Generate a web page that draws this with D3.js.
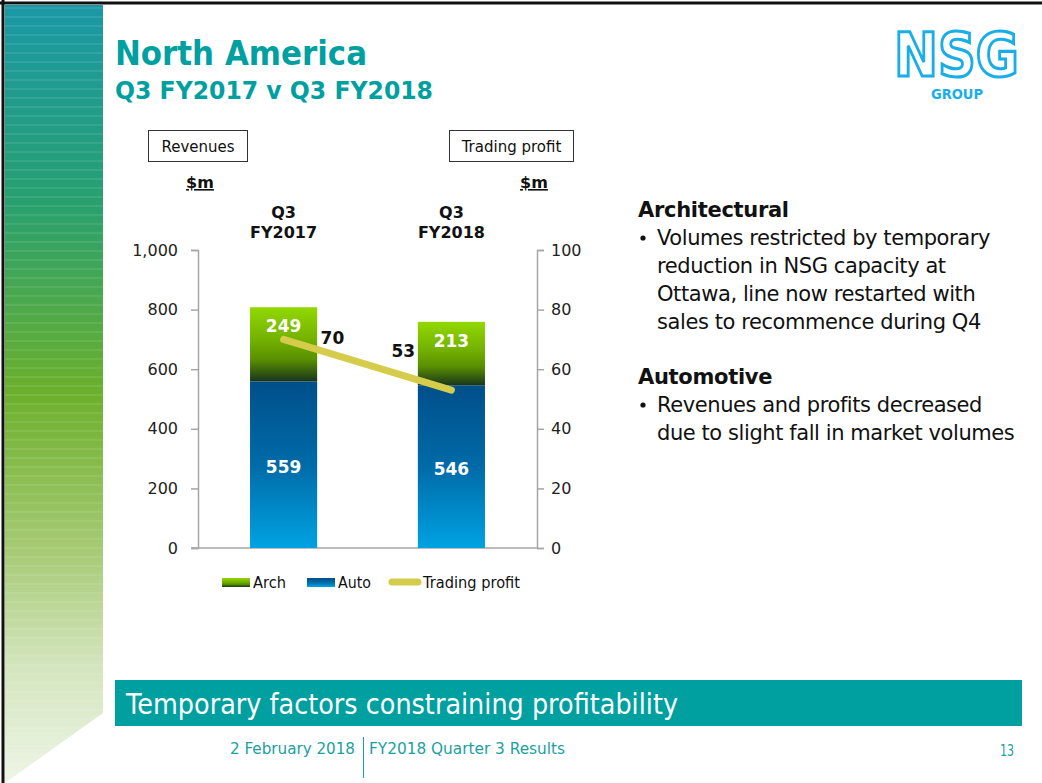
<!DOCTYPE html>
<html>
<head>
<meta charset="utf-8">
<script src="https://cdn.jsdelivr.net/npm/d3@7"></script>
<style>
  html, body { margin: 0; padding: 0; background: #fff; }
  svg { display: block; }
  text { font-family: "DejaVu Sans", Verdana, sans-serif; }
</style>
</head>
<body>
<svg width="1042" height="783"></svg>
<script>
const categories = ['Q3 FY2017', 'Q3 FY2018'];
const autoValues = [559, 546];
const archValues = [249, 213];
const profitValues = [70, 53];
const leftTicks = [0, 200, 400, 600, 800, 1000];
const rightTicks = [0, 20, 40, 60, 80, 100];
const legendItems = ['Arch', 'Auto', 'Trading profit'];

const teal = '#00a0a0';
const svg = d3.select('svg');
svg.selectAll('*').remove();

const defs = svg.append('defs');

// side strip gradient
const sideGrad = defs.append('linearGradient')
    .attr('id', 'side').attr('x1', 0).attr('y1', 0).attr('x2', 0).attr('y2', 1);
[[0, '#1a98a6'], [0.25, '#27a070'], [0.5, '#6cb02c'], [0.7, '#a6ca74'], [0.85, '#d3e5bd'], [1, '#eef5e6']]
    .forEach(([o, c]) => sideGrad.append('stop').attr('offset', o).attr('stop-color', c));

const archGrad = defs.append('linearGradient')
    .attr('id', 'arch').attr('x1', 0).attr('y1', 0).attr('x2', 0).attr('y2', 1);
[[0, '#92d800'], [0.45, '#72b000'], [0.7, '#5a9000'], [1, '#1a351c']]
    .forEach(([o, c]) => archGrad.append('stop').attr('offset', o).attr('stop-color', c));

const autoGrad = defs.append('linearGradient')
    .attr('id', 'auto').attr('x1', 0).attr('y1', 0).attr('x2', 0).attr('y2', 1);
[[0, '#004f8a'], [0.5, '#006ba8'], [1, '#00a2e2']]
    .forEach(([o, c]) => autoGrad.append('stop').attr('offset', o).attr('stop-color', c));

// slide frame
svg.append('polygon')
    .attr('points', '5,5 103,5 103,713 5,783')
    .attr('fill', 'url(#side)');
const bands = svg.append('g').attr('stroke', '#fff').attr('stroke-opacity', 0.18).attr('stroke-width', 1);
d3.range(8, 783, 9).forEach(yy => {
    bands.append('line').attr('x1', 5).attr('x2', 103).attr('y1', yy).attr('y2', yy);
});
svg.append('line').attr('x1', 0).attr('x2', 1042).attr('y1', 3).attr('y2', 3)
    .attr('stroke', '#111').attr('stroke-width', 3);
svg.append('line').attr('x1', 3).attr('x2', 3).attr('y1', 0).attr('y2', 783)
    .attr('stroke', '#111').attr('stroke-width', 3);

// titles
svg.append('text').attr('x', 115).attr('y', 65)
    .attr('fill', teal).attr('font-weight', 'bold').attr('font-size', 33)
    .attr('textLength', 252).attr('lengthAdjust', 'spacingAndGlyphs')
    .text('North America');
svg.append('text').attr('x', 115).attr('y', 99)
    .attr('fill', teal).attr('font-weight', 'bold').attr('font-size', 24)
    .attr('textLength', 318).attr('lengthAdjust', 'spacingAndGlyphs')
    .text('Q3 FY2017 v Q3 FY2018');

// logo
svg.append('text').attr('x', 894).attr('y', 76)
    .attr('font-family', '"Liberation Sans", Arial, sans-serif')
    .attr('font-weight', 'bold').attr('font-size', 60)
    .attr('fill', '#fff').attr('stroke', '#19aee8').attr('stroke-width', 3.2)
    .attr('textLength', 125).attr('lengthAdjust', 'spacingAndGlyphs')
    .text('NSG');
svg.append('text').attr('x', 931).attr('y', 99)
    .attr('font-family', '"Liberation Sans", Arial, sans-serif')
    .attr('font-weight', 'bold').attr('font-size', 13.5)
    .attr('fill', '#19aee8')
    .attr('textLength', 52).attr('lengthAdjust', 'spacingAndGlyphs')
    .text('GROUP');

// chart
const x = d3.scaleBand().domain(categories).range([198, 537])
    .paddingInner(0.6).paddingOuter(0.31);
const yL = d3.scaleLinear().domain([0, 1000]).range([548, 250]);
const yR = d3.scaleLinear().domain([0, 100]).range([548, 250]);

const axisColor = '#a6a6a6';
const gL = svg.append('g').attr('transform', 'translate(198,0)')
    .call(d3.axisLeft(yL).tickValues(leftTicks).tickSize(7).tickPadding(13)
        .tickFormat(d3.format(',')));
const gR = svg.append('g').attr('transform', 'translate(537,0)')
    .call(d3.axisRight(yR).tickValues(rightTicks).tickSize(7).tickPadding(7));
[gL, gR].forEach(g => {
    g.select('.domain').attr('stroke', axisColor).attr('stroke-width', 1.5);
    g.selectAll('.tick line').attr('stroke', axisColor).attr('stroke-width', 1.5);
    g.selectAll('.tick text').attr('fill', '#222').attr('font-size', 16)
        .attr('font-family', '"DejaVu Sans", Verdana, sans-serif');
});
svg.append('line').attr('x1', 191).attr('x2', 537)
    .attr('y1', yL(0)).attr('y2', yL(0))
    .attr('stroke', axisColor).attr('stroke-width', 1.5);

const bars = svg.append('g');
categories.forEach((c, i) => {
    bars.append('rect')
        .attr('x', x(c)).attr('width', x.bandwidth())
        .attr('y', yL(autoValues[i])).attr('height', yL(0) - yL(autoValues[i]))
        .attr('fill', 'url(#auto)');
    bars.append('rect')
        .attr('x', x(c)).attr('width', x.bandwidth())
        .attr('y', yL(autoValues[i] + archValues[i]))
        .attr('height', yL(autoValues[i]) - yL(autoValues[i] + archValues[i]))
        .attr('fill', 'url(#arch)');
    const cx = x(c) + x.bandwidth() / 2;
    bars.append('text').attr('x', cx).attr('y', yL(autoValues[i] + archValues[i]) + 25)
        .attr('text-anchor', 'middle').attr('fill', '#fff')
        .attr('font-weight', 'bold').attr('font-size', 17)
        .text(archValues[i]);
    bars.append('text').attr('x', cx).attr('y', yL(autoValues[i] / 2) + 8)
        .attr('text-anchor', 'middle').attr('fill', '#fff')
        .attr('font-weight', 'bold').attr('font-size', 17)
        .text(autoValues[i]);
    const parts = c.split(' ');
    parts.forEach((p, j) => {
        svg.append('text').attr('x', cx).attr('y', 218 + j * 20)
            .attr('text-anchor', 'middle').attr('fill', '#111')
            .attr('font-weight', 'bold').attr('font-size', 16)
            .text(p);
    });
});

// trading profit line
const line = d3.line()
    .x((d, i) => x(categories[i]) + x.bandwidth() / 2)
    .y(d => yR(d));
svg.append('path').datum(profitValues)
    .attr('d', line)
    .attr('fill', 'none').attr('stroke', '#d4cc4a')
    .attr('stroke-width', 7).attr('stroke-linecap', 'round');
svg.append('text').attr('x', x(categories[0]) + x.bandwidth() / 2 + 37)
    .attr('y', yR(profitValues[0]) + 5)
    .attr('font-weight', 'bold').attr('font-size', 17).attr('fill', '#111')
    .text(profitValues[0]);
svg.append('text').attr('x', x(categories[1]) + x.bandwidth() / 2 - 60)
    .attr('y', yR(profitValues[1]) - 33)
    .attr('font-weight', 'bold').attr('font-size', 17).attr('fill', '#111')
    .text(profitValues[1]);

// legend
const legend = svg.append('g').attr('font-size', 15).attr('fill', '#111');
const legX = [222, 307, 392];
legendItems.forEach((name, i) => {
    if (i < 2) {
        legend.append('rect').attr('x', legX[i]).attr('y', 578)
            .attr('width', 28).attr('height', 9)
            .attr('fill', i === 0 ? 'url(#arch)' : 'url(#auto)');
    } else {
        legend.append('line').attr('x1', legX[i]).attr('x2', legX[i] + 26)
            .attr('y1', 582).attr('y2', 582)
            .attr('stroke', '#d4cc4a').attr('stroke-width', 7).attr('stroke-linecap', 'round');
    }
    legend.append('text').attr('x', legX[i] + 31).attr('y', 588)
        .attr('textLength', [33, 33, 97][i]).attr('lengthAdjust', 'spacingAndGlyphs')
        .text(name);
});

// header boxes
[[148, 'Revenues', 99], [449, 'Trading profit', 124]].forEach(([bx, label, bw]) => {
    svg.append('rect').attr('x', bx + 0.5).attr('y', 130.5).attr('width', bw).attr('height', 31)
        .attr('fill', '#fff').attr('stroke', '#333').attr('stroke-width', 1);
    svg.append('text').attr('x', bx + bw / 2 + 0.5).attr('y', 152)
        .attr('text-anchor', 'middle').attr('font-size', 15).attr('fill', '#111')
        .text(label);
});
[200, 534].forEach(ux => {
    svg.append('text').attr('x', ux).attr('y', 188)
        .attr('text-anchor', 'middle').attr('font-size', 16).attr('font-weight', 'bold')
        .attr('fill', '#111').attr('text-decoration', 'underline')
        .text('$m');
});

// commentary
const notes = svg.append('g').attr('fill', '#111');
notes.append('text').attr('x', 638).attr('y', 217)
    .attr('font-weight', 'bold').attr('font-size', 21).attr('letter-spacing', -0.3)
    .text('Architectural');
['Volumes restricted by temporary', 'reduction in NSG capacity at',
 'Ottawa, line now restarted with', 'sales to recommence during Q4']
    .forEach((t, i) => notes.append('text').attr('x', 657).attr('y', 245 + i * 28)
        .attr('font-size', 21).attr('letter-spacing', -0.42).text(t));
notes.append('circle').attr('cx', 643).attr('cy', 238).attr('r', 2.6);
notes.append('text').attr('x', 638).attr('y', 384)
    .attr('font-weight', 'bold').attr('font-size', 21).attr('letter-spacing', -0.3)
    .text('Automotive');
['Revenues and profits decreased', 'due to slight fall in market volumes']
    .forEach((t, i) => notes.append('text').attr('x', 657).attr('y', 412 + i * 28)
        .attr('font-size', 21).attr('letter-spacing', -0.42).text(t));
notes.append('circle').attr('cx', 643).attr('cy', 405).attr('r', 2.6);

// footer
svg.append('rect').attr('x', 115).attr('y', 680).attr('width', 907).attr('height', 46)
    .attr('fill', teal);
svg.append('text').attr('x', 126).attr('y', 714)
    .attr('fill', '#fff').attr('font-size', 29)
    .attr('font-family', '"Liberation Sans Narrow", "Open Sans", sans-serif')
    .attr('textLength', 552).attr('lengthAdjust', 'spacingAndGlyphs')
    .text('Temporary factors constraining profitability');
const foot = svg.append('g').attr('fill', '#1aa0a0').attr('font-size', 16)
    .attr('font-family', '"Liberation Sans Narrow", "Open Sans", sans-serif');
foot.append('text').attr('x', 230).attr('y', 754)
    .attr('textLength', 125).attr('lengthAdjust', 'spacingAndGlyphs').text('2 February 2018');
foot.append('text').attr('x', 369).attr('y', 754)
    .attr('textLength', 196).attr('lengthAdjust', 'spacingAndGlyphs').text('FY2018 Quarter 3 Results');
foot.append('text').attr('x', 1000).attr('y', 756)
    .attr('textLength', 14).attr('lengthAdjust', 'spacingAndGlyphs').text('13');
svg.append('line').attr('x1', 363.5).attr('x2', 363.5).attr('y1', 737).attr('y2', 778)
    .attr('stroke', '#1aa0a0').attr('stroke-width', 1);
</script>
</body>
</html>
